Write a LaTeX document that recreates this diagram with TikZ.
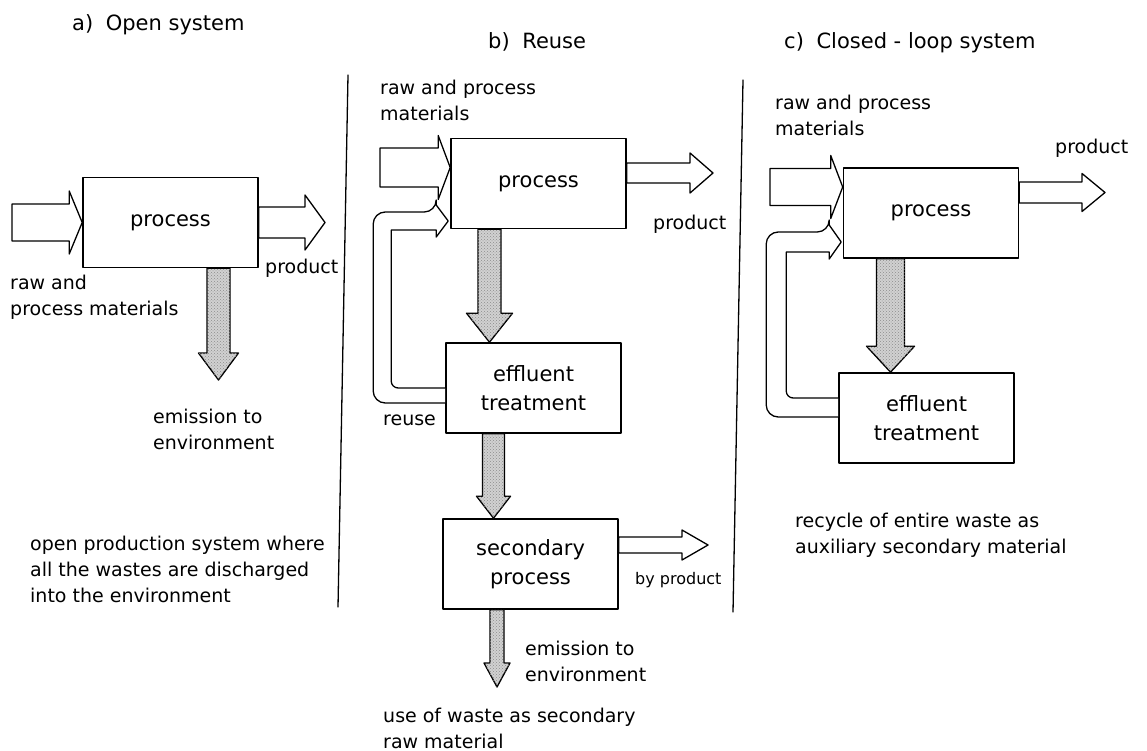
\documentclass[tikz,border=0pt]{standalone}
\usepackage{fontspec}
\setmainfont{DejaVu Sans}
\usetikzlibrary{calc,patterns}
\tikzset{box/.style=
	{draw, line width=1.6pt,
		minimum width=175pt, minimum height=90pt,
		align=center, font=\fontsize{21}{29}\selectfont},
	lbl/.style={anchor=west, align=left, inner sep=0pt, font=\fontsize{19}{26}\selectfont},
	ttl/.style={anchor=west, inner sep=0pt, font=\fontsize{21}{26}\selectfont},
	hollow arrow/.style={draw, line width=1.3pt, fill=white},
	waste arrow/.style={draw, line width=1.3pt, fill=black!18,
		postaction={pattern=crosshatch dots, pattern color=black!45}},
}
% fat arrow to the right: [style]{start}{tip}{half shaft}{half head}{head length}
\newcommand{\rightfat}[6][hollow arrow]{%
	\draw[#1] let \p1=(#2), \p2=(#3) in
	(\x1,\y2+#4) -- (\x2-#6,\y2+#4) -- (\x2-#6,\y2+#5) -- (\x2,\y2)
	-- (\x2-#6,\y2-#5) -- (\x2-#6,\y2-#4) -- (\x1,\y2-#4) -- cycle;}
% fat arrow downwards
\newcommand{\downfat}[6][waste arrow]{%
	\draw[#1] let \p1=(#2), \p2=(#3) in
	(\x2-#4,\y1) -- (\x2-#4,\y2+#6) -- (\x2-#5,\y2+#6) -- (\x2,\y2)
	-- (\x2+#5,\y2+#6) -- (\x2+#4,\y2+#6) -- (\x2+#4,\y1) -- cycle;}

\begin{document}
\begin{tikzpicture}[x=1pt, y=-1pt, line cap=round, line join=round]
			\fill[white] (0,0) rectangle (1147,751);
			\useasboundingbox (0,0) rectangle (1147,751);
			
			% titles and dividers
			\node[ttl] (ttlA) at (72,25) {a)\hspace{0.6em}Open system};
			\node[ttl] (ttlB) at (488,42) {b)\hspace{0.6em}Reuse};
			\node[ttl] (ttlC) at (784,43) {c)\hspace{0.6em}Closed - loop system};
			\draw[line width=1.3pt] (348,75) -- (338,607);
			\draw[line width=1.3pt] (743,80) -- (733,612);
			
			% a) open system
			\node[box] (procA) at (170.5,222.5) {process};
			\coordinate (srcA) at (12,222.5);
			\coordinate (prodA) at (325,222.5);
			\coordinate (emA) at (218.5,380);
			\rightfat{srcA}{procA.west}{18.5pt}{31.5pt}{13pt}
			\rightfat{procA.east}{prodA}{15.5pt}{27.5pt}{20pt}
			\downfat{procA.south}{emA}{11.5pt}{20pt}{27pt}
			\node[lbl] (rawA) at (10,297.5) {raw and\\process materials};
			\node[lbl] (prodAl) at (265,268) {product};
			\node[lbl] (emAl) at (153,429) {emission to\\environment};
			\node[lbl] (noteA) at (30,569) {open production system where\\all the wastes are discharged\\into the environment};
			
			% b) reuse
			\node[box] (procB) at (538.5,183.5) {process};
			\node[box] (effB) at (533.5,388) {effluent\\treatment};
			\node[box] (secB) at (530.5,564) {secondary\\process};
			\coordinate (srcB) at (380,167);
			\coordinate (prodB) at (713,173);
			\coordinate (byB) at (708,545);
			\coordinate (emB) at (497,687);
			\draw[hollow arrow] ([yshift=-15pt]effB.west) [rounded corners=12pt] -- ++(-72,0) -- ++(0,-191) -- ++(63,0)
				[sharp corners] -- ++(0,-7) -- ++(12,16) -- ++(-12,16) -- ++(0,-7) -- ++(-45,0)
				[rounded corners=7pt] -- ++(0,158) -- (effB.west);
			\rightfat{srcB}{[yshift=16pt]procB.west}{19.5pt}{32pt}{12pt}
			\rightfat{procB.east}{prodB}{10pt}{20pt}{23pt}
			\downfat{procB.south}{[xshift=-44pt]effB.north}{11.5pt}{23pt}{29pt}
			\downfat{effB.south}{[xshift=-37pt]secB.north}{11pt}{17pt}{22pt}
			\rightfat{secB.east}{byB}{8pt}{15pt}{26pt}
			\downfat{secB.south}{emB}{7pt}{13pt}{24pt}
			\node[lbl] (rawB) at (380,100) {raw and process\\materials};
			\node[lbl] (prodBl) at (653,224) {product};
			\node[lbl] (reuse) at (383,420) {reuse};
			\node[lbl, font=\fontsize{16}{20}\selectfont] (byBl) at (635,580) {by product};
			\node[lbl] (emBl) at (525,661.5) {emission to\\environment};
			\node[lbl] (noteB) at (383,728.5) {use of waste as secondary\\raw material};
			
			% c) closed-loop system
			\node[box] (procC) at (931,213) {process};
			\node[box] (effC) at (926.5,418) {effluent\\treatment};
			\coordinate (srcC) at (770,187);
			\coordinate (prodC) at (1105,192.5);
			\draw[hollow arrow] ([yshift=1pt]effC.west) [rounded corners=12pt] -- ++(-72,0) -- ++(0,-185) -- ++(63,0)
				[sharp corners] -- ++(0,-7) -- ++(12,17) -- ++(-12,17) -- ++(0,-7) -- ++(-43,0)
				[rounded corners=7pt] -- ++(0,146) -- ([yshift=20pt]effC.west);
			\rightfat{srcC}{[yshift=26pt]procC.west}{18.5pt}{31.5pt}{12pt}
			\rightfat{procC.east}{prodC}{10.5pt}{19pt}{23pt}
			\downfat{procC.south}{[xshift=-36pt]effC.north}{14pt}{24pt}{26pt}
			\node[lbl] (rawC) at (775,115) {raw and process\\materials};
			\node[lbl] (prodCl) at (1055,148) {product};
			\node[lbl] (noteC) at (795,535.5) {recycle of entire waste as\\auxiliary secondary material};
		\end{tikzpicture}
\end{document}
